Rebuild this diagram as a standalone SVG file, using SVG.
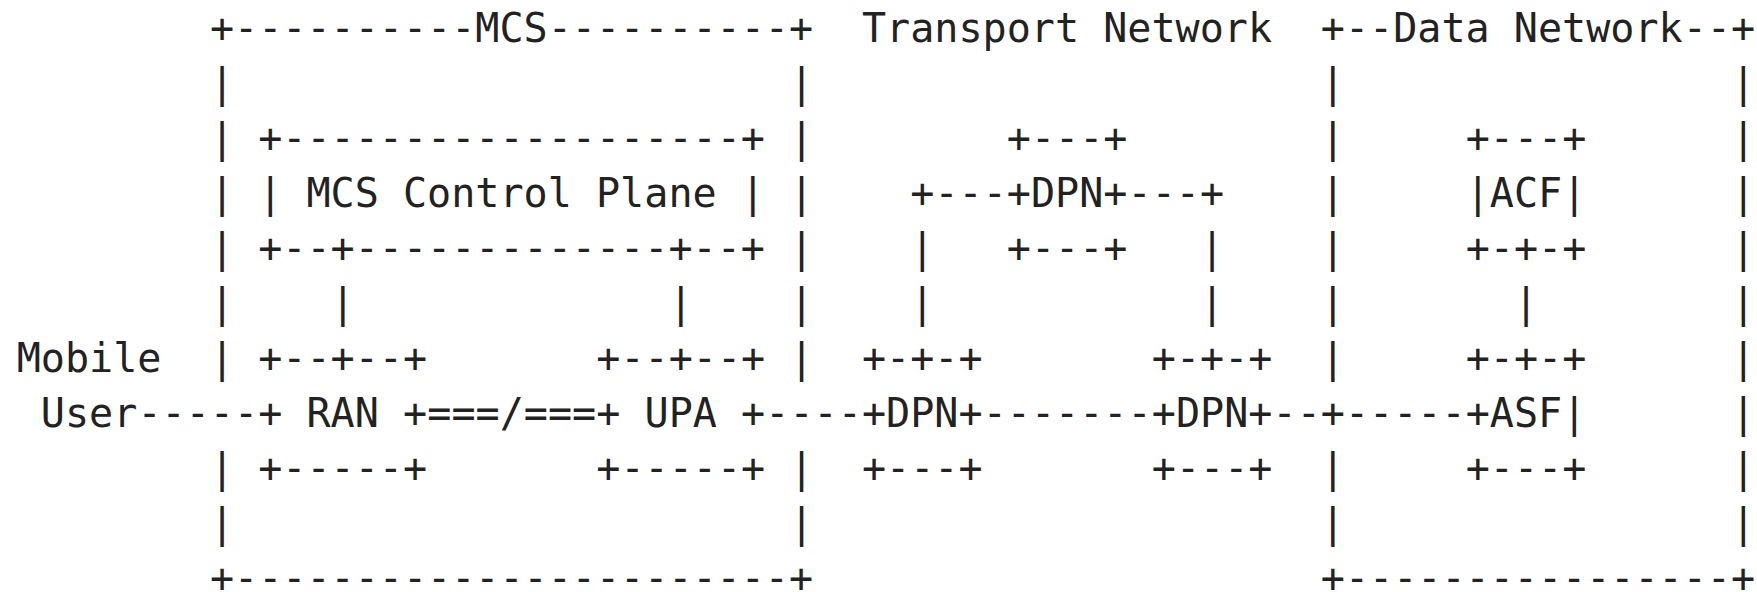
<svg xmlns="http://www.w3.org/2000/svg" width="1757" height="592" viewBox="0 0 1757 592" xml:space="preserve">
<style>
text { font-family: "DejaVu Sans Mono", "Liberation Mono", monospace; font-size: 40.1px; fill: #222; white-space: pre; }
</style>
<rect x="0" y="0" width="1757" height="592" fill="#fff"/>
<g id="mcs">
<text x="209.9" y="41.7">+----------MCS----------+</text>
<text x="209.9" y="96.7">|</text><text x="789.5" y="96.7">|</text>
<text x="209.9" y="151.7">|</text><text x="789.5" y="151.7">|</text>
<text x="209.9" y="206.7">|</text><text x="789.5" y="206.7">|</text>
<text x="209.9" y="261.7">|</text><text x="789.5" y="261.7">|</text>
<text x="209.9" y="316.7">|</text><text x="789.5" y="316.7">|</text>
<text x="209.9" y="371.7">|</text><text x="789.5" y="371.7">|</text>
<text x="209.9" y="481.7">|</text><text x="789.5" y="481.7">|</text>
<text x="209.9" y="536.7">|</text><text x="789.5" y="536.7">|</text>
<text x="209.9" y="591.7">+-----------------------+</text>
</g>
<g id="mcs-control-plane">
<text x="258.2" y="151.7">+-------------------+</text>
<text x="258.2" y="206.7">| MCS Control Plane |</text>
<text x="258.2" y="261.7">+--+-------------+--+</text>
</g>
<g id="ran">
<text x="258.2" y="371.7">+--+--+</text>
<text x="258.2" y="426.7">+ RAN +</text>
<text x="258.2" y="481.7">+-----+</text>
</g>
<g id="upa">
<text x="596.3" y="371.7">+--+--+</text>
<text x="596.3" y="426.7">+ UPA +</text>
<text x="596.3" y="481.7">+-----+</text>
</g>
<g id="transport-network">
<text x="861.95" y="41.7">Transport Network</text>
</g>
<g id="dpn-top">
<text x="1006.85" y="151.7">+---+</text>
<text x="1006.85" y="206.7">+DPN+</text>
<text x="1006.85" y="261.7">+---+</text>
</g>
<g id="dpn-left">
<text x="861.95" y="371.7">+-+-+</text>
<text x="861.95" y="426.7">+DPN+</text>
<text x="861.95" y="481.7">+---+</text>
</g>
<g id="dpn-right">
<text x="1151.75" y="371.7">+-+-+</text>
<text x="1151.75" y="426.7">+DPN+</text>
<text x="1151.75" y="481.7">+---+</text>
</g>
<g id="data-network">
<text x="1320.8" y="41.7">+--Data Network--+</text>
<text x="1320.8" y="96.7">|</text><text x="1731.35" y="96.7">|</text>
<text x="1320.8" y="151.7">|</text><text x="1731.35" y="151.7">|</text>
<text x="1320.8" y="206.7">|</text><text x="1731.35" y="206.7">|</text>
<text x="1320.8" y="261.7">|</text><text x="1731.35" y="261.7">|</text>
<text x="1320.8" y="316.7">|</text><text x="1731.35" y="316.7">|</text>
<text x="1320.8" y="371.7">|</text><text x="1731.35" y="371.7">|</text>
<text x="1320.8" y="426.7">+</text><text x="1731.35" y="426.7">|</text>
<text x="1320.8" y="481.7">|</text><text x="1731.35" y="481.7">|</text>
<text x="1320.8" y="536.7">|</text><text x="1731.35" y="536.7">|</text>
<text x="1320.8" y="591.7">+----------------+</text>
</g>
<g id="acf">
<text x="1465.7" y="151.7">+---+</text>
<text x="1465.7" y="206.7">|ACF|</text>
<text x="1465.7" y="261.7">+-+-+</text>
</g>
<g id="asf">
<text x="1465.7" y="371.7">+-+-+</text>
<text x="1465.7" y="426.7">+ASF|</text>
<text x="1465.7" y="481.7">+---+</text>
</g>
<g id="mobile-user">
<text x="16.7" y="371.7">Mobile</text>
<text x="40.85" y="426.7">User</text>
</g>
<g id="connectors">
<text x="137.45" y="426.7">-----</text>
<text x="427.25" y="426.7">===/===</text>
<text x="765.35" y="426.7">----</text>
<text x="982.7" y="426.7">-------</text>
<text x="1272.5" y="426.7">--</text>
<text x="1344.95" y="426.7">-----</text>
<text x="330.65" y="316.7">|</text>
<text x="668.75" y="316.7">|</text>
<text x="910.25" y="206.7">+---</text>
<text x="1127.6" y="206.7">---+</text>
<text x="910.25" y="261.7">|</text><text x="1200.05" y="261.7">|</text>
<text x="910.25" y="316.7">|</text><text x="1200.05" y="316.7">|</text>
<text x="1514" y="316.7">|</text>
</g>
</svg>
